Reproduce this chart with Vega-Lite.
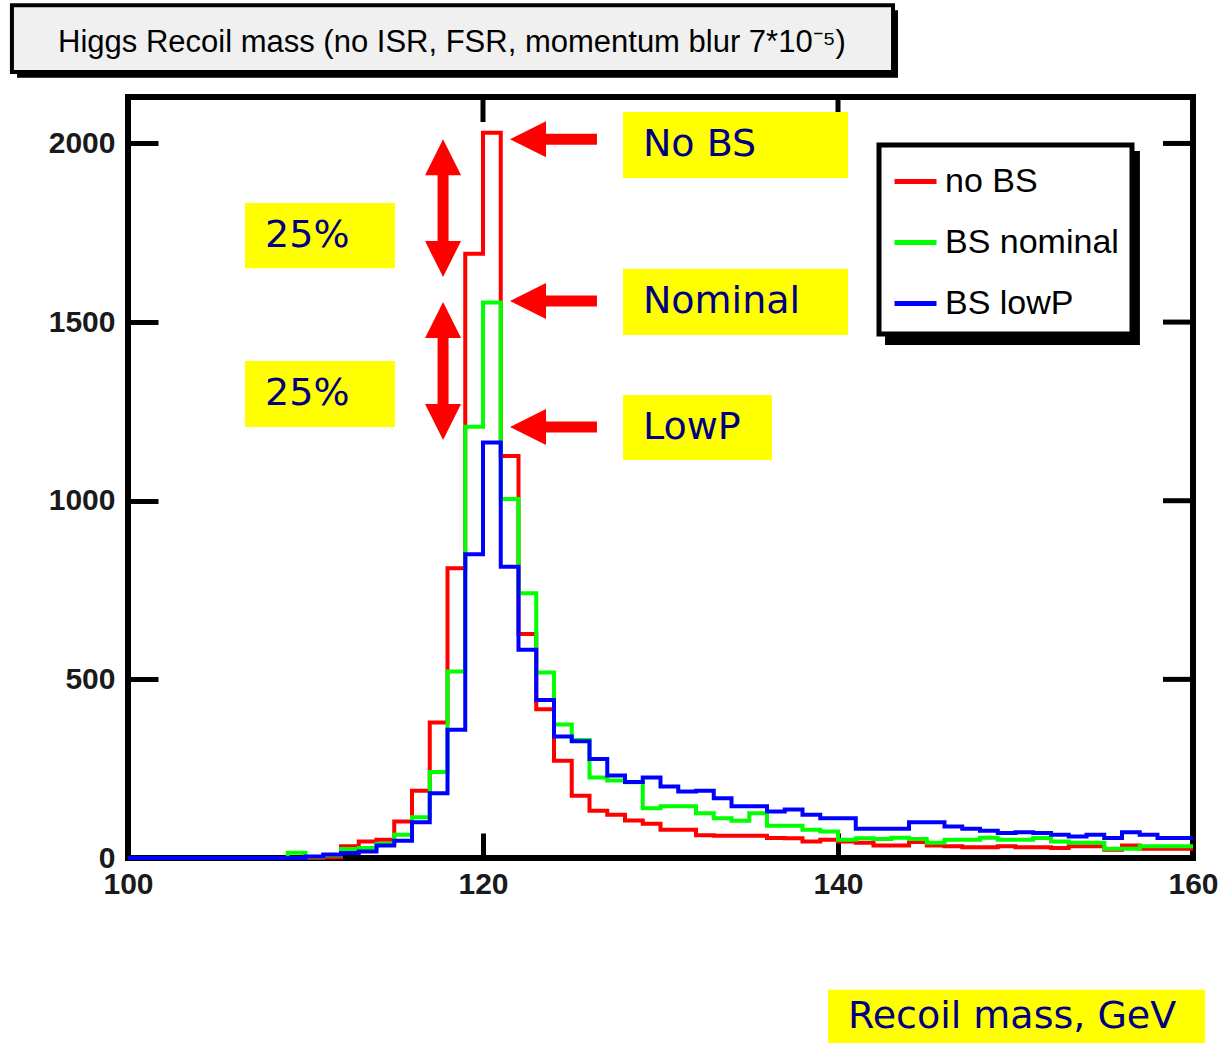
{
  "$schema": "https://vega.github.io/schema/vega-lite/v6.json",
  "width": 1065,
  "height": 761,
  "autosize": {"type": "none"},
  "padding": {"left": 128, "top": 97, "right": 28, "bottom": 185},
  "background": "white",
  "config": {
    "view": {"stroke": "black", "strokeWidth": 6},
    "axis": {"grid": false, "domain": false, "tickColor": "black", "tickWidth": 5, "labelOverlap": false}
  },
  "datasets": {
    "hist": [
      {"m": 100, "no BS": 0, "BS nominal": 0, "BS lowP": 0},
      {"m": 101, "no BS": 0, "BS nominal": 0, "BS lowP": 0},
      {"m": 102, "no BS": 0, "BS nominal": 0, "BS lowP": 0},
      {"m": 103, "no BS": 0, "BS nominal": 0, "BS lowP": 0},
      {"m": 104, "no BS": 0, "BS nominal": 0, "BS lowP": 0},
      {"m": 105, "no BS": 0, "BS nominal": 0, "BS lowP": 0},
      {"m": 106, "no BS": 0, "BS nominal": 0, "BS lowP": 0},
      {"m": 107, "no BS": 0, "BS nominal": 0, "BS lowP": 0},
      {"m": 108, "no BS": 0, "BS nominal": 0, "BS lowP": 0},
      {"m": 109, "no BS": 0, "BS nominal": 15, "BS lowP": 0},
      {"m": 110, "no BS": 0, "BS nominal": 3, "BS lowP": 4},
      {"m": 111, "no BS": 2, "BS nominal": 8, "BS lowP": 10},
      {"m": 112, "no BS": 33, "BS nominal": 25, "BS lowP": 14},
      {"m": 113, "no BS": 46, "BS nominal": 28, "BS lowP": 18},
      {"m": 114, "no BS": 51, "BS nominal": 40, "BS lowP": 35},
      {"m": 115, "no BS": 102, "BS nominal": 65, "BS lowP": 48},
      {"m": 116, "no BS": 188, "BS nominal": 114, "BS lowP": 100},
      {"m": 117, "no BS": 379, "BS nominal": 241, "BS lowP": 181},
      {"m": 118, "no BS": 811, "BS nominal": 522, "BS lowP": 359},
      {"m": 119, "no BS": 1691, "BS nominal": 1207, "BS lowP": 850},
      {"m": 120, "no BS": 2030, "BS nominal": 1555, "BS lowP": 1163},
      {"m": 121, "no BS": 1125, "BS nominal": 1005, "BS lowP": 815},
      {"m": 122, "no BS": 627, "BS nominal": 741, "BS lowP": 583},
      {"m": 123, "no BS": 416, "BS nominal": 519, "BS lowP": 442},
      {"m": 124, "no BS": 272, "BS nominal": 374, "BS lowP": 340},
      {"m": 125, "no BS": 174, "BS nominal": 330, "BS lowP": 327},
      {"m": 126, "no BS": 132, "BS nominal": 225, "BS lowP": 277},
      {"m": 127, "no BS": 121, "BS nominal": 217, "BS lowP": 231},
      {"m": 128, "no BS": 105, "BS nominal": 212, "BS lowP": 213},
      {"m": 129, "no BS": 96, "BS nominal": 139, "BS lowP": 225},
      {"m": 130, "no BS": 79, "BS nominal": 145, "BS lowP": 200},
      {"m": 131, "no BS": 79, "BS nominal": 145, "BS lowP": 186},
      {"m": 132, "no BS": 64, "BS nominal": 125, "BS lowP": 188},
      {"m": 133, "no BS": 62, "BS nominal": 111, "BS lowP": 167},
      {"m": 134, "no BS": 62, "BS nominal": 104, "BS lowP": 145},
      {"m": 135, "no BS": 62, "BS nominal": 125, "BS lowP": 145},
      {"m": 136, "no BS": 56, "BS nominal": 90, "BS lowP": 130},
      {"m": 137, "no BS": 55, "BS nominal": 90, "BS lowP": 136},
      {"m": 138, "no BS": 46, "BS nominal": 79, "BS lowP": 121},
      {"m": 139, "no BS": 51, "BS nominal": 74, "BS lowP": 111},
      {"m": 140, "no BS": 46, "BS nominal": 51, "BS lowP": 111},
      {"m": 141, "no BS": 43, "BS nominal": 55, "BS lowP": 82},
      {"m": 142, "no BS": 35, "BS nominal": 53, "BS lowP": 82},
      {"m": 143, "no BS": 35, "BS nominal": 57, "BS lowP": 82},
      {"m": 144, "no BS": 45, "BS nominal": 53, "BS lowP": 100},
      {"m": 145, "no BS": 35, "BS nominal": 43, "BS lowP": 100},
      {"m": 146, "no BS": 33, "BS nominal": 51, "BS lowP": 88},
      {"m": 147, "no BS": 30, "BS nominal": 51, "BS lowP": 82},
      {"m": 148, "no BS": 30, "BS nominal": 57, "BS lowP": 76},
      {"m": 149, "no BS": 33, "BS nominal": 51, "BS lowP": 70},
      {"m": 150, "no BS": 30, "BS nominal": 51, "BS lowP": 72},
      {"m": 151, "no BS": 30, "BS nominal": 56, "BS lowP": 70},
      {"m": 152, "no BS": 28, "BS nominal": 46, "BS lowP": 65},
      {"m": 153, "no BS": 33, "BS nominal": 43, "BS lowP": 60},
      {"m": 154, "no BS": 33, "BS nominal": 43, "BS lowP": 65},
      {"m": 155, "no BS": 23, "BS nominal": 26, "BS lowP": 56},
      {"m": 156, "no BS": 35, "BS nominal": 26, "BS lowP": 72},
      {"m": 157, "no BS": 26, "BS nominal": 33, "BS lowP": 65},
      {"m": 158, "no BS": 26, "BS nominal": 33, "BS lowP": 56},
      {"m": 159, "no BS": 26, "BS nominal": 33, "BS lowP": 56},
      {"m": 160, "no BS": 26, "BS nominal": 33, "BS lowP": 56}
    ],
    "frameTicks": [
      {"x": 158.31, "x2": 160, "y": 500, "y2": 500},
      {"x": 158.31, "x2": 160, "y": 1000, "y2": 1000},
      {"x": 158.31, "x2": 160, "y": 1500, "y2": 1500},
      {"x": 158.31, "x2": 160, "y": 2000, "y2": 2000},
      {"x": 120, "x2": 120, "y": 2060, "y2": 2130},
      {"x": 140, "x2": 140, "y": 2060, "y2": 2130}
    ],
    "yellowBoxes": [
      {"x1": 127.89, "x2": 140.56, "y1": 2088, "y2": 1903},
      {"x1": 127.89, "x2": 140.56, "y1": 1649, "y2": 1464},
      {"x1": 127.89, "x2": 136.28, "y1": 1296, "y2": 1114},
      {"x1": 106.59, "x2": 115.04, "y1": 1833, "y2": 1651},
      {"x1": 106.59, "x2": 115.04, "y1": 1391, "y2": 1206},
      {"x1": 139.44, "x2": 160.68, "y1": -369, "y2": -530}
    ],
    "yellowText": [
      {"x": 129.01, "y": 1996, "t": "No BS"},
      {"x": 129.01, "y": 1556, "t": "Nominal"},
      {"x": 129.01, "y": 1204, "t": "LowP"},
      {"x": 107.72, "y": 1741, "t": "25%"},
      {"x": 107.72, "y": 1299, "t": "25%"},
      {"x": 140.56, "y": -445, "t": "Recoil mass, GeV"}
    ],
    "shafts": [
      {"x": 122.9, "x2": 126.42, "y": 2012, "y2": 2012},
      {"x": 122.9, "x2": 126.42, "y": 1559, "y2": 1559},
      {"x": 122.9, "x2": 126.42, "y": 1206, "y2": 1206},
      {"x": 117.75, "x2": 117.75, "y": 1925, "y2": 1715},
      {"x": 117.75, "x2": 117.75, "y": 1468, "y2": 1258}
    ],
    "heads": [
      {"x": 121.52, "y": 2012, "d": "left"},
      {"x": 121.52, "y": 1559, "d": "left"},
      {"x": 121.52, "y": 1206, "d": "left"},
      {"x": 117.75, "y": 2012, "d": "up"},
      {"x": 117.75, "y": 1626, "d": "down"},
      {"x": 117.75, "y": 1556, "d": "up"},
      {"x": 117.75, "y": 1170, "d": "down"}
    ]
  },
  "layer": [
    {
      "data": {"name": "hist"},
      "transform": [
        {"fold": ["no BS", "BS nominal", "BS lowP"], "as": ["s", "n"]},
        {"filter": "datum.s === 'no BS'"}
      ],
      "mark": {"type": "line", "interpolate": "step-after", "strokeWidth": 4, "strokeJoin": "miter", "strokeCap": "butt"},
      "encoding": {
        "x": {
          "field": "m", "type": "quantitative",
          "scale": {"domain": [100, 160], "nice": false, "zero": false},
          "axis": {
            "orient": "bottom", "title": null, "values": [100, 120, 140, 160], "format": "d",
            "tickSize": -25, "labelPadding": 36, "labelFlush": false,
            "labelFont": "Liberation Sans", "labelFontSize": 30, "labelFontWeight": "bold", "labelColor": "#1a1a1a"
          }
        },
        "y": {
          "field": "n", "type": "quantitative",
          "scale": {"domain": [0, 2130], "nice": false},
          "axis": {
            "orient": "left", "title": null, "values": [0, 500, 1000, 1500, 2000], "format": "d",
            "tickSize": -30, "labelPadding": 43,
            "labelFont": "Liberation Sans", "labelFontSize": 30, "labelFontWeight": "bold", "labelColor": "#1a1a1a"
          }
        },
        "color": {
          "field": "s", "type": "nominal",
          "scale": {"domain": ["no BS", "BS nominal", "BS lowP"], "range": ["#ff0000", "#00ff00", "#0000ff"]},
          "legend": {
            "title": null, "orient": "none", "legendX": 751, "legendY": 48,
            "symbolType": "stroke", "symbolStrokeWidth": 5, "symbolSize": 1764,
            "labelFont": "Liberation Sans", "labelFontSize": 34, "labelColor": "black", "labelOffset": 6, "labelLimit": 400,
            "rowPadding": 20, "padding": 13,
            "strokeColor": "black", "fillColor": "white",
            "encode": {"legend": {"update": {"strokeWidth": {"value": 5}}}}
          }
        }
      }
    },
    {
      "data": {"name": "hist"},
      "transform": [
        {"fold": ["no BS", "BS nominal", "BS lowP"], "as": ["s", "n"]},
        {"filter": "datum.s === 'BS nominal'"}
      ],
      "mark": {"type": "line", "interpolate": "step-after", "strokeWidth": 4, "strokeJoin": "miter", "strokeCap": "butt"},
      "encoding": {
        "x": {"field": "m", "type": "quantitative"},
        "y": {"field": "n", "type": "quantitative"},
        "color": {"field": "s", "type": "nominal"}
      }
    },
    {
      "data": {"name": "hist"},
      "transform": [
        {"fold": ["no BS", "BS nominal", "BS lowP"], "as": ["s", "n"]},
        {"filter": "datum.s === 'BS lowP'"}
      ],
      "mark": {"type": "line", "interpolate": "step-after", "strokeWidth": 4, "strokeJoin": "miter", "strokeCap": "butt"},
      "encoding": {
        "x": {"field": "m", "type": "quantitative"},
        "y": {"field": "n", "type": "quantitative"},
        "color": {"field": "s", "type": "nominal"}
      }
    },
    {
      "data": {"name": "frameTicks"},
      "mark": {"type": "rule", "color": "black", "strokeWidth": 5, "strokeCap": "butt"},
      "encoding": {
        "x": {"field": "x", "type": "quantitative"},
        "x2": {"field": "x2"},
        "y": {"field": "y", "type": "quantitative"},
        "y2": {"field": "y2"}
      }
    },
    {
      "data": {"values": [{"x1": 142.65, "x2": 157.01, "y1": 1979, "y2": 1436}]},
      "mark": {"type": "rect", "fill": "black"},
      "encoding": {
        "x": {"field": "x1", "type": "quantitative"},
        "x2": {"field": "x2"},
        "y": {"field": "y1", "type": "quantitative"},
        "y2": {"field": "y2"}
      }
    },
    {
      "data": {"values": [{"x1": 93.75, "x2": 143.38, "y1": 2373, "y2": 2184}]},
      "mark": {"type": "rect", "fill": "black"},
      "encoding": {
        "x": {"field": "x1", "type": "quantitative"},
        "x2": {"field": "x2"},
        "y": {"field": "y1", "type": "quantitative"},
        "y2": {"field": "y2"}
      }
    },
    {
      "data": {"values": [{"x1": 93.46, "x2": 143.1, "y1": 2387, "y2": 2200}]},
      "mark": {"type": "rect", "fill": "#f0f0f0", "stroke": "black", "strokeWidth": 4},
      "encoding": {
        "x": {"field": "x1", "type": "quantitative"},
        "x2": {"field": "x2"},
        "y": {"field": "y1", "type": "quantitative"},
        "y2": {"field": "y2"}
      }
    },
    {
      "data": {"values": [{"x": 118.25, "y": 2281, "t": "Higgs Recoil mass (no ISR, FSR, momentum blur 7*10⁻⁵)"}]},
      "mark": {"type": "text", "align": "center", "baseline": "middle", "font": "Liberation Sans", "fontSize": 31, "color": "black"},
      "encoding": {
        "x": {"field": "x", "type": "quantitative"},
        "y": {"field": "y", "type": "quantitative"},
        "text": {"field": "t"}
      }
    },
    {
      "data": {"name": "yellowBoxes"},
      "mark": {"type": "rect", "fill": "#ffff00"},
      "encoding": {
        "x": {"field": "x1", "type": "quantitative"},
        "x2": {"field": "x2"},
        "y": {"field": "y1", "type": "quantitative"},
        "y2": {"field": "y2"}
      }
    },
    {
      "data": {"name": "yellowText"},
      "mark": {"type": "text", "align": "left", "baseline": "middle", "font": "DejaVu Sans", "fontSize": 38, "color": "#000080"},
      "encoding": {
        "x": {"field": "x", "type": "quantitative"},
        "y": {"field": "y", "type": "quantitative"},
        "text": {"field": "t"}
      }
    },
    {
      "data": {"name": "shafts"},
      "mark": {"type": "rule", "color": "#ff0000", "strokeWidth": 11, "strokeCap": "butt"},
      "encoding": {
        "x": {"field": "x", "type": "quantitative"},
        "x2": {"field": "x2"},
        "y": {"field": "y", "type": "quantitative"},
        "y2": {"field": "y2"}
      }
    },
    {
      "data": {"name": "heads"},
      "mark": {"type": "point", "filled": true, "color": "#ff0000", "opacity": 1, "size": 1296, "strokeWidth": 0},
      "encoding": {
        "x": {"field": "x", "type": "quantitative"},
        "y": {"field": "y", "type": "quantitative"},
        "shape": {
          "field": "d", "type": "nominal", "legend": null,
          "scale": {"domain": ["left", "up", "down"], "range": ["M0,0L2,-1L2,1Z", "M0,0L-1,2L1,2Z", "M0,0L-1,-2L1,-2Z"]}
        }
      }
    }
  ]
}
